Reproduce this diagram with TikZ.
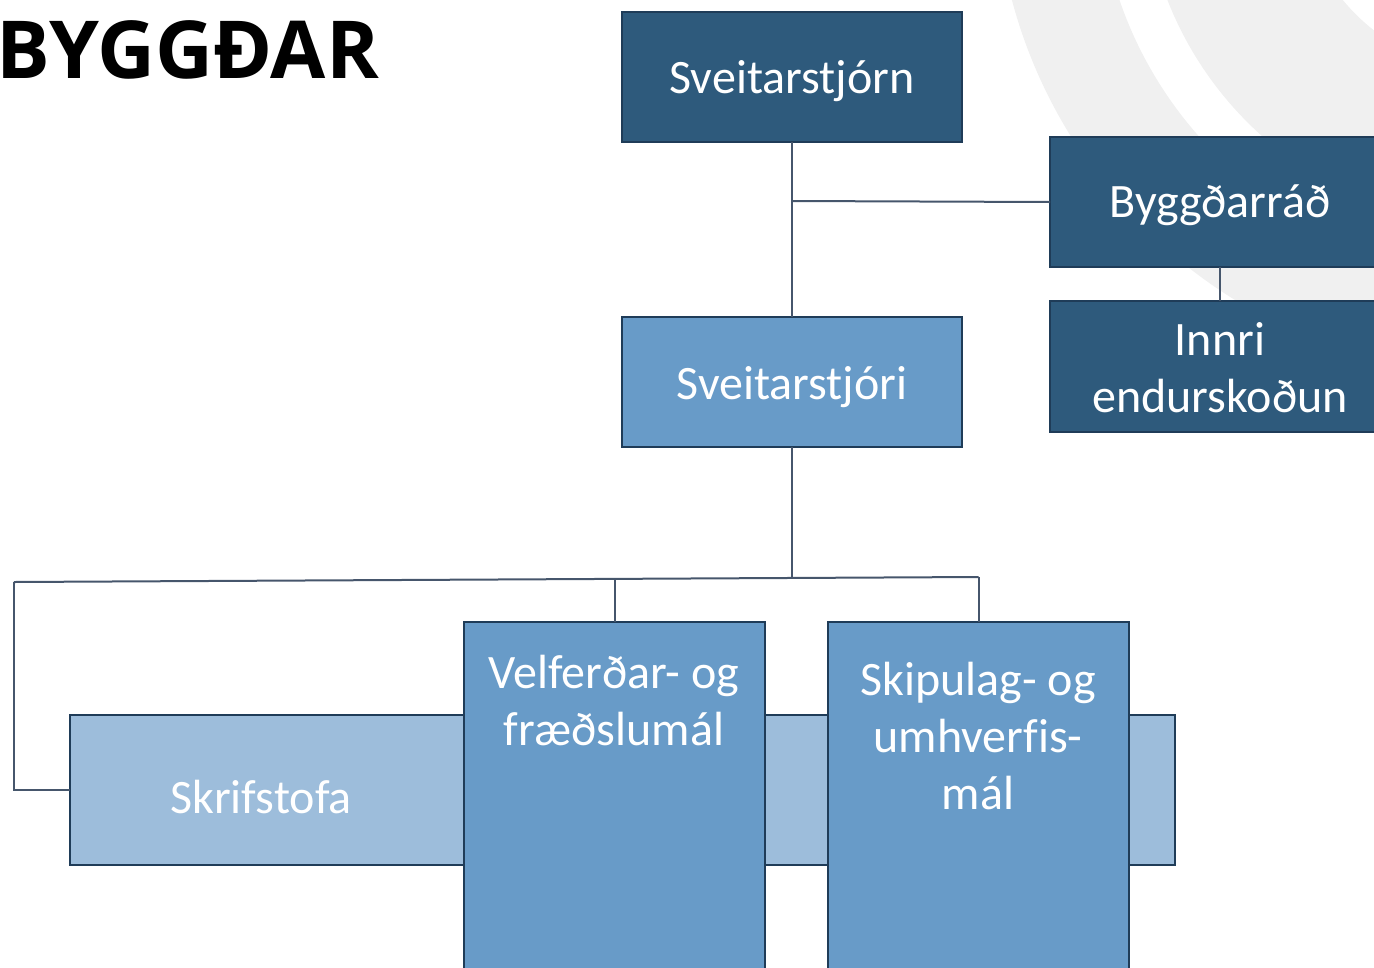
\documentclass[tikz,border=0pt]{standalone}
\usepackage{fontspec}
\setmainfont{Carlito}[Ligatures=NoCommon]
\newfontfamily\titlefont{Open Sans}
\definecolor{darkbox}{HTML}{2E5A7C}
\definecolor{darkedge}{HTML}{1F3C58}
\definecolor{midbox}{HTML}{689BC8}
\definecolor{lightbox}{HTML}{9DBDDB}
\definecolor{linkcol}{HTML}{46566C}
\definecolor{arcgrey}{HTML}{F0F0F0}
\begin{document}
\begin{tikzpicture}[x=1pt,y=-1pt,
  box/.style={draw=darkedge, line width=2.2pt, inner sep=0pt, outer sep=0pt, rectangle},
  darkfill/.style={box, fill=darkbox},
  midfill/.style={box, fill=midbox},
  lightfill/.style={box, fill=lightbox},
  label/.style={text=white, font=\fontsize{48}{57}\selectfont, align=center, inner sep=0pt},
  link/.style={draw=linkcol, line width=2pt}]
\useasboundingbox (0,0) rectangle (1374,967);
% background arcs
\begin{scope}
\clip (0,0) rectangle (1374,967);
\fill[arcgrey, even odd rule] (1500,-130) circle (505pt) circle (402pt);
\fill[arcgrey, even odd rule] (1500,-130) circle (357pt) circle (204pt);
\end{scope}
% title
\node[anchor=base west, inner sep=0pt, font=\titlefont\bfseries\fontsize{80}{82}\selectfont] (title) at (-4,78) {BYGGÐAR};
% boxes
\node[darkfill, minimum width=340pt, minimum height=130pt] (stjorn) at (792,77) {};
\node[darkfill, minimum width=340pt, minimum height=130pt] (byggd) at (1220,202) {};
\node[darkfill, minimum width=340pt, minimum height=131pt] (innri) at (1220,366.5) {};
\node[midfill, minimum width=340pt, minimum height=130pt] (stjori) at (792,382) {};
\node[lightfill, minimum width=1105pt, minimum height=150pt] (skrif) at (622.5,790) {};
\node[midfill, minimum width=301pt, minimum height=368pt] (velf) at (614.5,806) {};
\node[midfill, minimum width=301pt, minimum height=368pt] (skip) at (978.5,806) {};
% texts
\node[label] (tstjorn) at (792,81) {Sveitarstjórn};
\node[label] (tbyggd) at (1220,205) {Byggðarráð};
\node[label] (tinnri) at (1220,368) {Innri\\endurskoðun};
\node[label] (tstjori) at (792,387) {Sveitarstjóri};
\node[label] (tskrif) at (261,797) {Skrifstofa};
\node[label] (tvelf) at (614,701) {Velferðar- og\\fræðslumál};
\node[label] (tskip) at (978,736) {Skipulag- og\\umhverfis-\\mál};
% connector points
\coordinate (j1) at (792,201);
\coordinate (busM) at (792,577);
\coordinate (busR) at (978.5,577);
\coordinate (busV) at (614.5,579.5);
\coordinate (busL) at (14,582);
% connectors
\draw[link] (stjorn.south) -- (stjori.north);
\draw[link] (j1) -- (byggd.west);
\draw[link] (byggd.south) -- (innri.north);
\draw[link] (stjori.south) -- (busM);
\draw[link] (busL) -- (busR);
\draw[link] (busV) -- (velf.north);
\draw[link] (busR) -- (skip.north);
\draw[link] (busL) |- (skrif.west);
\end{tikzpicture}
\end{document}
